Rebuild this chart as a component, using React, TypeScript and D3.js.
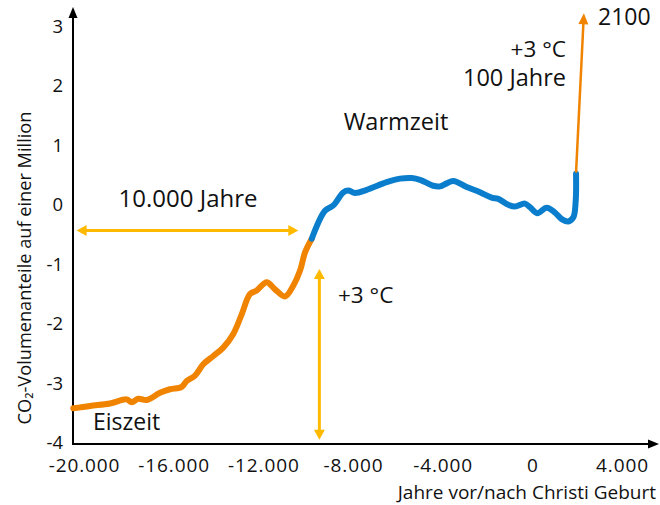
import React from "react";
import * as d3 from "d3";

// ---- data ----
const glacialYears = [-20480, -19730, -18840, -18095, -17870, -17580, -17200, -16610, -16165, -15640, -15420, -15050, -14680, -14230, -13790, -13340, -12965, -12595, -12295, -11850, -11480, -11035, -10665, -10365, -10140, -9840];
const glacialValues = [-3.40, -3.36, -3.32, -3.25, -3.30, -3.24, -3.26, -3.14, -3.08, -3.04, -2.94, -2.85, -2.66, -2.52, -2.38, -2.15, -1.82, -1.48, -1.42, -1.28, -1.40, -1.52, -1.34, -1.09, -0.78, -0.55];
const holoceneYears = [-9840, -9250, -8880, -8430, -8210, -7910, -7390, -6500, -5900, -5380, -5010, -4420, -4120, -3820, -3525, -2930, -2335, -1815, -1520, -1070, -775, -330, -105, 220, 640, 1010, 1310, 1605, 1830, 1935, 1950];
const holoceneValues = [-0.55, -0.08, 0.01, 0.23, 0.26, 0.22, 0.27, 0.40, 0.46, 0.47, 0.44, 0.34, 0.33, 0.38, 0.42, 0.32, 0.23, 0.14, 0.12, 0.02, -0.01, 0.04, -0.02, -0.12, -0.03, -0.11, -0.22, -0.26, -0.19, 0.09, 0.54];
const futureYears = [1950, 2300];
const futureValues = [0.56, 3.24];

const xTicks = [-20000, -16000, -12000, -8000, -4000, 0, 4000];
const yTicks = [-4, -3, -2, -1, 0, 1, 2, 3];

// annotation arrows (data coordinates)
const spanArrowYears = [-20330, -10440];
const spanArrowValue = -0.41;
const riseArrowYear = -9500;
const riseArrowValues = [-3.93, -1.06];

const W = 660, H = 505;
const FONT = "'Open Sans', 'Noto Sans', sans-serif";
const ORANGE = "#F08300";
const BLUE = "#0A7ECC";
const GOLD = "#FFBA00";
const INK = "#111";

const locale = d3.formatLocale({ decimal: ",", thousands: ".", grouping: [3], currency: ["", " €"], minus: "-" });
const fmtX = locale.format(",");

export default function App() {
  const x = d3.scaleLinear().domain([-20000, 4000]).range([84, 622]);
  const y = d3.scaleLinear().domain([-4, 3]).range([444, 27.5]);
  const x0 = 73, y0 = 444;

  const line = d3.line<[number, number]>()
    .x(d => x(d[0])).y(d => y(d[1]))
    .curve(d3.curveCatmullRom.alpha(0.5));
  const glacial = glacialYears.map((v, i) => [v, glacialValues[i]] as [number, number]);
  const holocene = holoceneYears.map((v, i) => [v, holoceneValues[i]] as [number, number]);

  const head = (tx: number, ty: number, dx: number, dy: number, len: number, half: number) => {
    const n = Math.hypot(dx, dy); const ux = dx / n, uy = dy / n;
    const bx = tx - ux * len, by = ty - uy * len;
    return `M${tx},${ty}L${bx - uy * half},${by + ux * half}L${bx + uy * half},${by - ux * half}Z`;
  };

  const fx1 = x(futureYears[0]), fy1 = y(futureValues[0]);
  const fx2 = x(futureYears[1]), fy2 = y(futureValues[1]);
  const fdx = fx2 - fx1, fdy = fy2 - fy1, fn = Math.hypot(fdx, fdy);

  const hx1 = x(spanArrowYears[0]), hx2 = x(spanArrowYears[1]), hy = y(spanArrowValue);
  const vx = x(riseArrowYear), vy1 = y(riseArrowValues[0]), vy2 = y(riseArrowValues[1]);

  return (
    <svg width={W} height={H} style={{ position: "absolute", left: 0, top: 0, background: "#fff" }} fontFamily={FONT}>
      {/* axes */}
      <line x1={x0} y1={y0} x2={650} y2={y0} stroke="#000" strokeWidth={2} />
      <path d={head(659, y0, 1, 0, 11, 4.5)} fill="#000" />
      <line x1={x0} y1={y0 + 1} x2={x0} y2={16} stroke="#000" strokeWidth={2} />
      <path d={head(x0, 7, 0, -1, 11, 4.5)} fill="#000" />

      {/* tick labels */}
      {xTicks.map(t => (
        <text key={t} x={x(t) + 0.5} y={471.5} textAnchor="middle" fontSize={19} letterSpacing={0.9} fill={INK}>{fmtX(t)}</text>
      ))}
      {yTicks.map(t => (
        <text key={t} x={63} y={y(t) + 5} textAnchor="end" fontSize={18.5} fill={INK}>{String(t)}</text>
      ))}
      <text x={656} y={498.5} textAnchor="end" fontSize={19} fill={INK}>Jahre vor/nach Christi Geburt</text>
      <text transform={`translate(31,268) rotate(-90)`} textAnchor="middle" fontSize={18.2} fill={INK}>CO₂-Volumenanteile auf einer Million</text>

      {/* curves */}
      <path d={line(glacial) ?? ""} fill="none" stroke={ORANGE} strokeWidth={6} strokeLinecap="round" strokeLinejoin="round" />
      <path d={line(holocene) ?? ""} fill="none" stroke={BLUE} strokeWidth={6} strokeLinecap="round" strokeLinejoin="round" />

      {/* future arrow */}
      <line x1={fx1} y1={fy1} x2={fx2 - (fdx / fn) * 9} y2={fy2 - (fdy / fn) * 9} stroke={ORANGE} strokeWidth={2.5} />
      <path d={head(fx2, fy2, fdx, fdy, 11, 5)} fill={ORANGE} />

      {/* span arrow */}
      <line x1={hx1 + 8} y1={hy} x2={hx2 - 8} y2={hy} stroke={GOLD} strokeWidth={3} />
      <path d={head(hx1, hy, -1, 0, 10, 5.5)} fill={GOLD} />
      <path d={head(hx2, hy, 1, 0, 10, 5.5)} fill={GOLD} />

      {/* rise arrow */}
      <line x1={vx} y1={vy1 - 8} x2={vx} y2={vy2 + 8} stroke={GOLD} strokeWidth={3} />
      <path d={head(vx, vy1, 0, 1, 10, 5.5)} fill={GOLD} />
      <path d={head(vx, vy2, 0, -1, 10, 5.5)} fill={GOLD} />

      {/* annotations */}
      <text x={188} y={207} textAnchor="middle" fontSize={24} fill={INK}>10.000 Jahre</text>
      <text x={338} y={303} textAnchor="start" fontSize={22.5} fill={INK}>+3 °C</text>
      <text x={396} y={130} textAnchor="middle" fontSize={23.5} fill={INK}>Warmzeit</text>
      <text x={93} y={430} textAnchor="start" fontSize={23} fill={INK}>Eiszeit</text>
      <text x={566} y={57} textAnchor="end" fontSize={22.5} fill={INK}>+3 °C</text>
      <text x={566} y={86} textAnchor="end" fontSize={23.5} fill={INK}>100 Jahre</text>
      <text x={598} y={25} textAnchor="start" fontSize={23} fill={INK}>2100</text>
    </svg>
  );
}
